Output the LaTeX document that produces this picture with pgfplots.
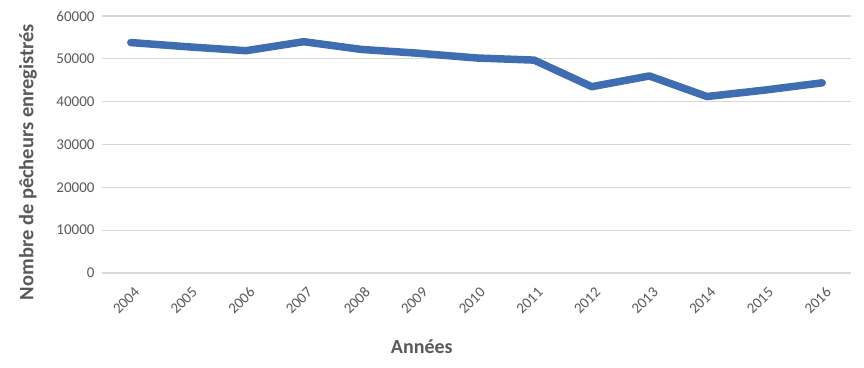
\documentclass[border=0pt]{standalone}
\usepackage{pgfplots}
\pgfplotsset{compat=1.18}
\usepackage{fontspec}
\setmainfont{Carlito}
\definecolor{linec}{HTML}{3E6DB1}
\definecolor{gridc}{HTML}{D9D9D9}
\definecolor{txt}{HTML}{595959}
\begin{document}
\begin{tikzpicture}
\path[use as bounding box] (-102pt,-94pt) rectangle (762pt,273pt);
\begin{axis}[
  scale only axis,
  width=749pt, height=257pt,
  xmin=-0.5, xmax=12.5,
  ymin=0, ymax=60000,
  ytick={0,10000,...,60000},
  xtick={0,...,12},
  xticklabels={2004,2005,2006,2007,2008,2009,2010,2011,2012,2013,2014,2015,2016},
  axis line style={draw=none},
  major tick length=0pt,
  ymajorgrids,
  grid style={gridc, line width=1.3pt},
  /pgf/number format/assume math mode=true,
  scaled y ticks=false,
  yticklabel style={/pgf/number format/1000 sep={}, font=\fontsize{15}{15}\selectfont, text=txt, xshift=-4pt},
  xticklabel style={font=\fontsize{15}{15}\selectfont, text=txt, xshift=7pt, yshift=-16pt, rotate=45, anchor=east, inner sep=1pt},
  ylabel={\textbf{Nombre de pêcheurs enregistrés}},
  xlabel={\textbf{Années}},
  ylabel style={font=\fontsize{20.5}{20.5}\selectfont, text=txt, at={(axis description cs:-0.0988,0.432)}, anchor=center, rotate=0},
  xlabel style={font=\fontsize{20}{20}\selectfont, text=txt, at={(axis description cs:0.427,-0.285)}, anchor=center},
  clip=false,
]
\addplot[linec, line width=7.5pt, line join=round, line cap=round] coordinates {
(0,53800) (1,52800) (2,51900) (3,54000) (4,52200) (5,51300) (6,50200) (7,49700) (8,43500) (9,46000) (10,41200) (11,42700) (12,44400)
};
\end{axis}
\end{tikzpicture}
\end{document}
